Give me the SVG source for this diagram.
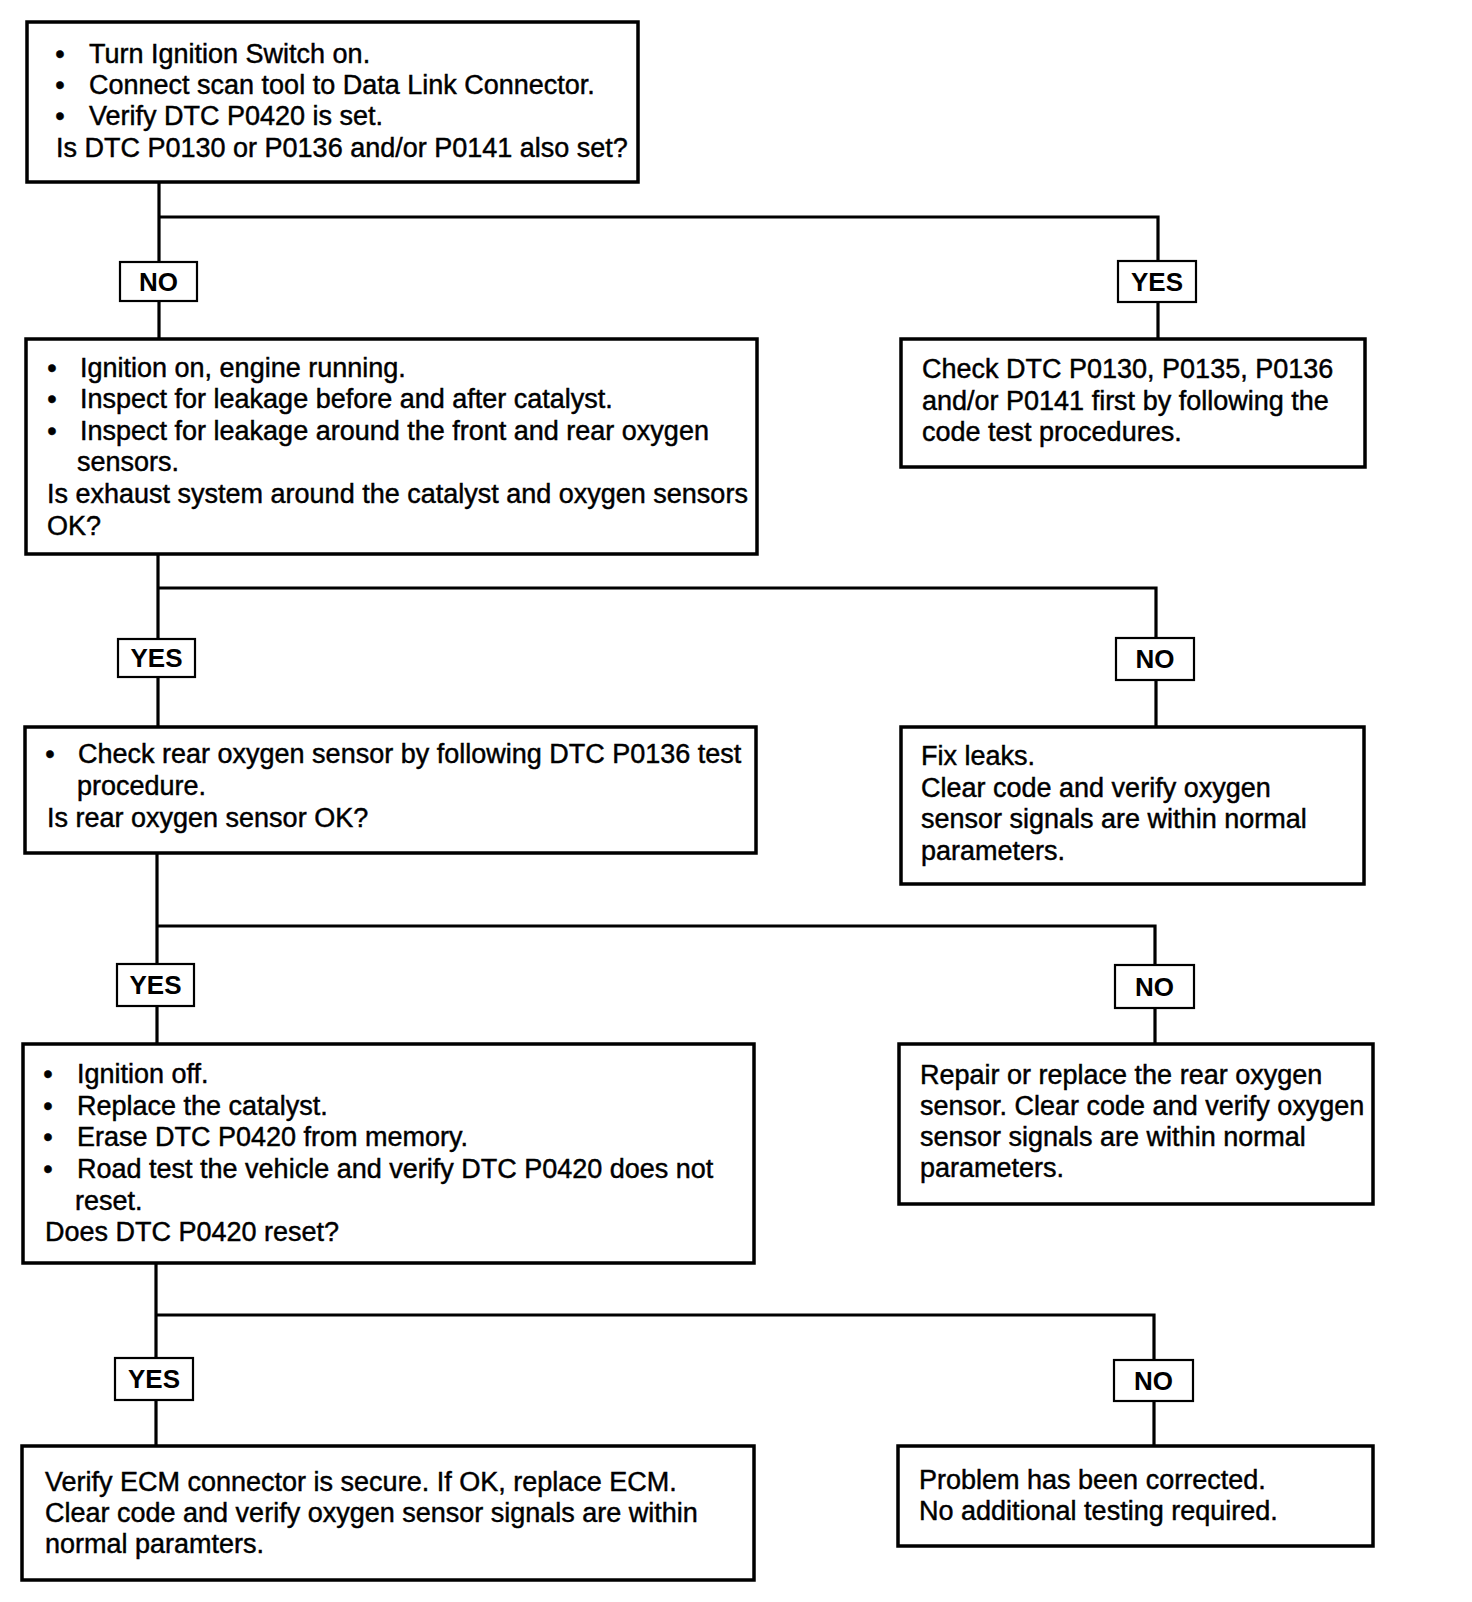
<svg xmlns="http://www.w3.org/2000/svg" width="1472" height="1602" viewBox="0 0 1472 1602">
<style>
.box{fill:#fff;stroke:#000;stroke-width:3.5}
.lab{fill:#fff;stroke:#000;stroke-width:2.2}
.t{font-family:"Liberation Sans",Arial,sans-serif;font-size:27px;fill:#000;stroke:#000;stroke-width:0.45}
.b{font-family:"Liberation Sans",Arial,sans-serif;font-size:26px;font-weight:bold;fill:#000;text-anchor:middle}
.bul{text-anchor:middle}
.con{fill:none;stroke:#000;stroke-width:3.2}
</style>
<rect width="1472" height="1602" fill="#fff"/>
<g id="connectors">
<path class="con" d="M159,182 V339"/>
<path class="con" d="M159,217 H1158 V339"/>
<path class="con" d="M158,554 V727"/>
<path class="con" d="M158,588 H1156 V727"/>
<path class="con" d="M157,853 V1044"/>
<path class="con" d="M157,926 H1155 V1044"/>
<path class="con" d="M156,1263 V1446"/>
<path class="con" d="M156,1315 H1154 V1446"/>
</g>
<g id="n1">
<rect class="box" x="27" y="22" width="611" height="160"/>
<text class="t bul" x="60" y="63">•</text><text class="t" x="89" y="63">Turn Ignition Switch on.</text>
<text class="t bul" x="60" y="94">•</text><text class="t" x="89" y="94">Connect scan tool to Data Link Connector.</text>
<text class="t bul" x="60" y="125">•</text><text class="t" x="89" y="125">Verify DTC P0420 is set.</text>
<text class="t" x="56" y="157">Is DTC P0130 or P0136 and/or P0141 also set?</text>
</g>
<g id="l1no"><rect class="lab" x="120" y="262" width="77" height="39"/><text class="b" x="158.5" y="291">NO</text></g>
<g id="l1yes"><rect class="lab" x="1118" y="261" width="78" height="41"/><text class="b" x="1157" y="291">YES</text></g>
<g id="n2">
<rect class="box" x="26" y="339" width="731" height="215"/>
<text class="t bul" x="52" y="377">•</text><text class="t" x="80" y="377">Ignition on, engine running.</text>
<text class="t bul" x="52" y="408">•</text><text class="t" x="80" y="408">Inspect for leakage before and after catalyst.</text>
<text class="t bul" x="52" y="440">•</text><text class="t" x="80" y="440">Inspect for leakage around the front and rear oxygen</text>
<text class="t" x="77" y="471">sensors.</text>
<text class="t" x="47" y="503">Is exhaust system around the catalyst and oxygen sensors</text>
<text class="t" x="47" y="535">OK?</text>
</g>
<g id="n3">
<rect class="box" x="901" y="339" width="464" height="128"/>
<text class="t" x="922" y="378">Check DTC P0130, P0135, P0136</text>
<text class="t" x="922" y="410">and/or P0141 first by following the</text>
<text class="t" x="922" y="441">code test procedures.</text>
</g>
<g id="l2yes"><rect class="lab" x="118" y="639" width="77" height="38"/><text class="b" x="156.5" y="667">YES</text></g>
<g id="l2no"><rect class="lab" x="1116" y="638" width="78" height="42"/><text class="b" x="1155" y="668">NO</text></g>
<g id="n4">
<rect class="box" x="25" y="727" width="731" height="126"/>
<text class="t bul" x="50" y="763">•</text><text class="t" x="78" y="763">Check rear oxygen sensor by following DTC P0136 test</text>
<text class="t" x="77" y="795">procedure.</text>
<text class="t" x="47" y="827">Is rear oxygen sensor OK?</text>
</g>
<g id="n5">
<rect class="box" x="901" y="727" width="463" height="157"/>
<text class="t" x="921" y="765">Fix leaks.</text>
<text class="t" x="921" y="797">Clear code and verify oxygen</text>
<text class="t" x="921" y="828">sensor signals are within normal</text>
<text class="t" x="921" y="860">parameters.</text>
</g>
<g id="l3yes"><rect class="lab" x="117" y="964" width="77" height="42"/><text class="b" x="155.5" y="994">YES</text></g>
<g id="l3no"><rect class="lab" x="1115" y="965" width="79" height="43"/><text class="b" x="1154.5" y="996">NO</text></g>
<g id="n6">
<rect class="box" x="23" y="1044" width="731" height="219"/>
<text class="t bul" x="48" y="1083">•</text><text class="t" x="77" y="1083">Ignition off.</text>
<text class="t bul" x="48" y="1115">•</text><text class="t" x="77" y="1115">Replace the catalyst.</text>
<text class="t bul" x="48" y="1146">•</text><text class="t" x="77" y="1146">Erase DTC P0420 from memory.</text>
<text class="t bul" x="48" y="1178">•</text><text class="t" x="77" y="1178">Road test the vehicle and verify DTC P0420 does not</text>
<text class="t" x="75" y="1210">reset.</text>
<text class="t" x="45" y="1241">Does DTC P0420 reset?</text>
</g>
<g id="n7">
<rect class="box" x="899" y="1044" width="474" height="160"/>
<text class="t" x="920" y="1084">Repair or replace the rear oxygen</text>
<text class="t" x="920" y="1115">sensor. Clear code and verify oxygen</text>
<text class="t" x="920" y="1146">sensor signals are within normal</text>
<text class="t" x="920" y="1177">parameters.</text>
</g>
<g id="l4yes"><rect class="lab" x="115" y="1358" width="78" height="42"/><text class="b" x="154" y="1388">YES</text></g>
<g id="l4no"><rect class="lab" x="1114" y="1360" width="79" height="41"/><text class="b" x="1153.5" y="1390">NO</text></g>
<g id="n8">
<rect class="box" x="22" y="1446" width="732" height="134"/>
<text class="t" x="45" y="1491">Verify ECM connector is secure. If OK, replace ECM.</text>
<text class="t" x="45" y="1522">Clear code and verify oxygen sensor signals are within</text>
<text class="t" x="45" y="1553">normal paramters.</text>
</g>
<g id="n9">
<rect class="box" x="898" y="1446" width="475" height="100"/>
<text class="t" x="919" y="1489">Problem has been corrected.</text>
<text class="t" x="919" y="1520">No additional testing required.</text>
</g>
</svg>
